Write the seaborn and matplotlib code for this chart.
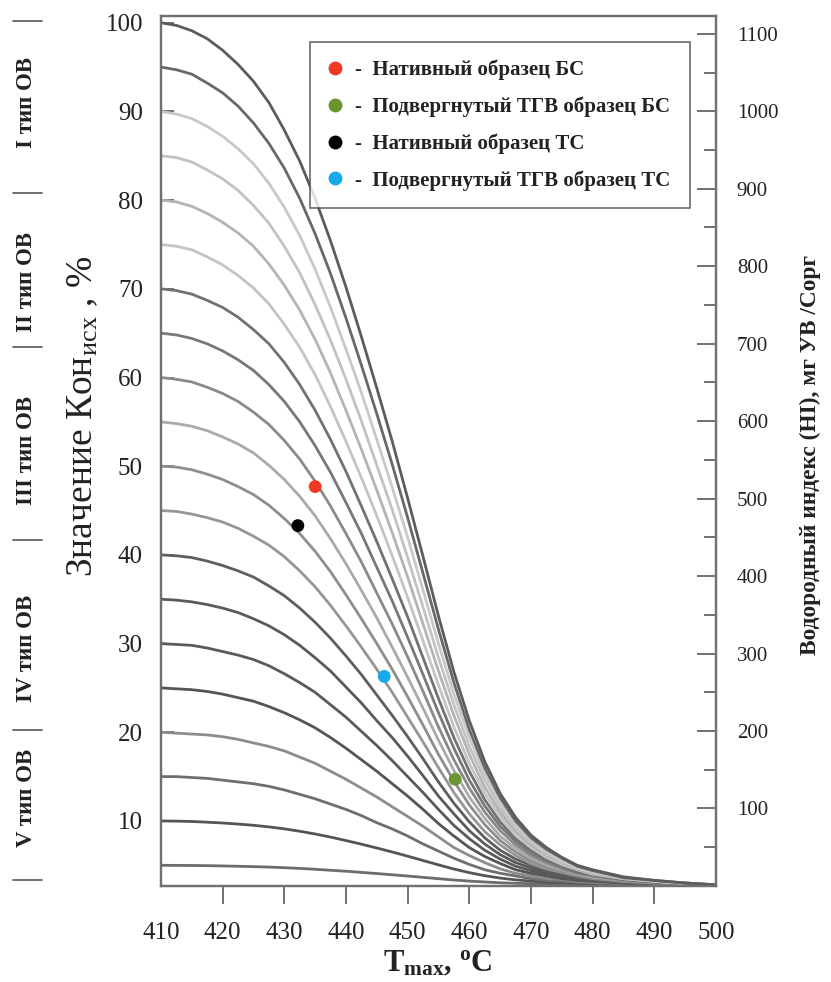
import matplotlib
matplotlib.use('Agg')
import matplotlib.pyplot as plt
from matplotlib.lines import Line2D
from matplotlib.ticker import MultipleLocator
import pandas as pd
import seaborn as sns

# Tmax grid (°C) and Kon values (one list per starting value)
tmax = [410, 412.5, 415, 417.5, 420, 422.5, 425, 427.5, 430, 432.5, 435, 437.5, 440, 442.5,
        445, 447.5, 450, 452.5, 455, 457.5, 460, 462.5, 465, 467.5, 470, 472.5, 475, 477.5,
        480, 485, 490, 495, 500]

kon_005 = [5.0, 4.99, 4.98, 4.96, 4.93, 4.89, 4.85, 4.80, 4.73, 4.65, 4.55, 4.44, 4.33, 4.20,
           4.07, 3.93, 3.79, 3.64, 3.49, 3.34, 3.22, 3.12, 3.03, 2.97, 2.93, 2.90, 2.87, 2.85,
           2.84, 2.82, 2.81, 2.80, 2.80]
kon_010 = [10.0, 9.98, 9.94, 9.86, 9.77, 9.65, 9.51, 9.33, 9.11, 8.84, 8.53, 8.18, 7.79, 7.38,
           6.95, 6.50, 6.03, 5.54, 5.05, 4.58, 4.17, 3.83, 3.56, 3.36, 3.22, 3.11, 3.03, 2.97,
           2.92, 2.87, 2.84, 2.81, 2.80]
kon_015 = [15.0, 15.0, 14.9, 14.8, 14.6, 14.4, 14.2, 13.9, 13.5, 13.0, 12.5, 11.9, 11.3, 10.6,
           9.8, 9.1, 8.3, 7.4, 6.6, 5.8, 5.1, 4.5, 4.1, 3.8, 3.5, 3.3, 3.2, 3.1,
           3.0, 2.9, 2.9, 2.8, 2.8]
kon_020 = [20.0, 19.9, 19.8, 19.7, 19.5, 19.2, 18.8, 18.4, 17.9, 17.2, 16.5, 15.6, 14.7, 13.7,
           12.7, 11.6, 10.5, 9.4, 8.2, 7.0, 6.1, 5.3, 4.6, 4.1, 3.8, 3.5, 3.4, 3.2,
           3.1, 3.0, 2.9, 2.8, 2.8]
kon_025 = [25.0, 24.9, 24.8, 24.6, 24.3, 23.9, 23.5, 22.9, 22.2, 21.4, 20.5, 19.4, 18.2, 16.9,
           15.6, 14.2, 12.8, 11.3, 9.7, 8.3, 7.0, 6.0, 5.2, 4.5, 4.1, 3.8, 3.5, 3.3,
           3.2, 3.0, 2.9, 2.8, 2.8]
kon_030 = [30.0, 29.9, 29.8, 29.5, 29.1, 28.7, 28.2, 27.5, 26.6, 25.6, 24.5, 23.1, 21.7, 20.1,
           18.5, 16.8, 15.0, 13.2, 11.3, 9.5, 8.0, 6.7, 5.7, 4.9, 4.4, 4.0, 3.7, 3.4,
           3.3, 3.0, 2.9, 2.9, 2.8]
kon_035 = [35.0, 34.9, 34.7, 34.4, 34.0, 33.5, 32.8, 32.0, 31.0, 29.8, 28.4, 26.9, 25.1, 23.3,
           21.3, 19.4, 17.3, 15.1, 12.8, 10.8, 8.9, 7.4, 6.2, 5.3, 4.7, 4.2, 3.8, 3.5,
           3.3, 3.1, 3.0, 2.9, 2.8]
kon_040 = [40.0, 39.9, 39.7, 39.3, 38.8, 38.2, 37.5, 36.5, 35.4, 34.0, 32.4, 30.6, 28.6, 26.5,
           24.2, 21.9, 19.5, 17.0, 14.4, 12.0, 9.9, 8.1, 6.7, 5.7, 5.0, 4.4, 4.0, 3.7,
           3.4, 3.1, 3.0, 2.9, 2.8]
kon_045 = [45.0, 44.9, 44.6, 44.2, 43.7, 43.0, 42.1, 41.1, 39.8, 38.2, 36.4, 34.3, 32.0, 29.6,
           27.1, 24.5, 21.7, 18.9, 16.0, 13.2, 10.8, 8.8, 7.3, 6.1, 5.2, 4.6, 4.2, 3.8,
           3.5, 3.2, 3.0, 2.9, 2.8]
kon_050 = [50.0, 49.9, 49.6, 49.1, 48.5, 47.7, 46.8, 45.6, 44.1, 42.4, 40.4, 38.1, 35.5, 32.8,
           30.0, 27.1, 24.0, 20.8, 17.5, 14.5, 11.8, 9.6, 7.8, 6.5, 5.5, 4.8, 4.3, 3.9,
           3.6, 3.2, 3.0, 2.9, 2.8]
kon_055 = [55.0, 54.8, 54.5, 54.0, 53.3, 52.5, 51.5, 50.1, 48.5, 46.6, 44.4, 41.8, 39.0, 36.0,
           32.9, 29.6, 26.2, 22.7, 19.1, 15.7, 12.7, 10.3, 8.3, 6.9, 5.8, 5.0, 4.5, 4.0,
           3.7, 3.3, 3.1, 2.9, 2.8]
kon_060 = [60.0, 59.8, 59.5, 58.9, 58.2, 57.3, 56.1, 54.7, 52.9, 50.8, 48.3, 45.5, 42.4, 39.2,
           35.7, 32.2, 28.5, 24.6, 20.6, 16.9, 13.7, 11.0, 8.9, 7.3, 6.1, 5.3, 4.6, 4.1,
           3.8, 3.3, 3.1, 2.9, 2.8]
kon_065 = [65.0, 64.8, 64.4, 63.8, 63.0, 62.0, 60.8, 59.2, 57.3, 55.0, 52.3, 49.3, 45.9, 42.4,
           38.6, 34.8, 30.7, 26.5, 22.2, 18.2, 14.6, 11.7, 9.4, 7.7, 6.4, 5.5, 4.8, 4.2,
           3.9, 3.4, 3.1, 2.9, 2.8]
kon_070 = [70.0, 69.8, 69.4, 68.7, 67.9, 66.8, 65.4, 63.8, 61.7, 59.2, 56.3, 53.0, 49.4, 45.5,
           41.5, 37.3, 33.0, 28.4, 23.8, 19.4, 15.6, 12.4, 9.9, 8.0, 6.7, 5.7, 5.0, 4.3,
           3.9, 3.4, 3.1, 2.9, 2.8]
kon_075 = [75.0, 74.8, 74.4, 73.6, 72.7, 71.5, 70.1, 68.3, 66.0, 63.4, 60.3, 56.7, 52.8, 48.7,
           44.4, 39.9, 35.2, 30.3, 25.3, 20.6, 16.5, 13.1, 10.5, 8.4, 7.0, 5.9, 5.1, 4.5,
           4.0, 3.5, 3.2, 2.9, 2.8]
kon_080 = [80.0, 79.8, 79.3, 78.5, 77.5, 76.3, 74.8, 72.8, 70.4, 67.6, 64.3, 60.5, 56.3, 51.9,
           47.3, 42.5, 37.5, 32.2, 26.9, 21.9, 17.5, 13.8, 11.0, 8.8, 7.3, 6.1, 5.3, 4.6,
           4.1, 3.5, 3.2, 3.0, 2.8]
kon_085 = [85.0, 84.8, 84.3, 83.4, 82.4, 81.1, 79.4, 77.4, 74.8, 71.8, 68.2, 64.2, 59.8, 55.1,
           50.1, 45.1, 39.7, 34.1, 28.4, 23.1, 18.4, 14.6, 11.5, 9.2, 7.6, 6.3, 5.4, 4.7,
           4.2, 3.5, 3.2, 3.0, 2.8]
kon_090 = [90.0, 89.7, 89.2, 88.3, 87.2, 85.8, 84.1, 81.9, 79.2, 76.0, 72.2, 67.9, 63.2, 58.3,
           53.0, 47.6, 42.0, 36.0, 30.0, 24.3, 19.4, 15.3, 12.0, 9.6, 7.9, 6.6, 5.6, 4.8,
           4.3, 3.6, 3.2, 3.0, 2.8]
kon_095 = [95.0, 94.7, 94.2, 93.2, 92.1, 90.6, 88.7, 86.4, 83.6, 80.2, 76.2, 71.7, 66.7, 61.4,
           55.9, 50.2, 44.2, 37.9, 31.6, 25.6, 20.3, 16.0, 12.6, 10.0, 8.1, 6.8, 5.8, 4.9,
           4.4, 3.6, 3.3, 3.0, 2.8]
kon_100 = [100.0, 99.7, 99.1, 98.2, 96.9, 95.3, 93.4, 91.0, 87.9, 84.4, 80.2, 75.4, 70.2, 64.6,
           58.8, 52.8, 46.4, 39.8, 33.1, 26.8, 21.3, 16.7, 13.1, 10.4, 8.4, 7.0, 5.9, 5.0,
           4.5, 3.7, 3.3, 3.0, 2.8]

curve_names = ['5', '10', '15', '20', '25', '30', '35', '40', '45', '50',
               '55', '60', '65', '70', '75', '80', '85', '90', '95', '100']
curve_values = [kon_005, kon_010, kon_015, kon_020, kon_025, kon_030, kon_035, kon_040, kon_045, kon_050,
                kon_055, kon_060, kon_065, kon_070, kon_075, kon_080, kon_085, kon_090, kon_095, kon_100]

# samples
sample_labels = ['Нативный образец БС', 'Подвергнутый ТГВ образец БС',
                 'Нативный образец ТС', 'Подвергнутый ТГВ образец ТС']
sample_tmax = [435.0, 457.7, 432.2, 446.2]
sample_kon = [47.7, 14.7, 43.3, 26.3]

type_labels = ['I тип ОВ', 'II тип ОВ', 'III тип ОВ', 'IV тип ОВ', 'V тип ОВ']
x_ticks = [410, 420, 430, 440, 450, 460, 470, 480, 490, 500]
kon_ticks = [10, 20, 30, 40, 50, 60, 70, 80, 90, 100]
hi_ticks = [100, 200, 300, 400, 500, 600, 700, 800, 900, 1000, 1100]

# styling
curve_colors = {'5': '#6c6c6c', '10': '#555555', '15': '#6e6e6e', '20': '#8c8c8c', '25': '#555555',
                '30': '#5a5a5a', '35': '#5a5a5a', '40': '#5e5e5e', '45': '#969696', '50': '#8e8e8e',
                '55': '#aaaaaa', '60': '#8a8a8a', '65': '#787878', '70': '#727272', '75': '#c4c4c4',
                '80': '#b4b4b4', '85': '#c2c2c2', '90': '#c8c8c8', '95': '#686868', '100': '#5c5c5c'}
sample_colors = {'Нативный образец БС': '#ee3a24', 'Подвергнутый ТГВ образец БС': '#6b9531',
                 'Нативный образец ТС': '#000000', 'Подвергнутый ТГВ образец ТС': '#14aaeb'}

sns.set_theme(style='white')
plt.rcParams['font.family'] = ['Liberation Serif', 'DejaVu Serif']
plt.rcParams['mathtext.fontset'] = 'custom'
plt.rcParams['mathtext.rm'] = 'Liberation Serif'
plt.rcParams['mathtext.it'] = 'Liberation Serif:italic'
plt.rcParams['mathtext.bf'] = 'Liberation Serif:bold'

df = pd.DataFrame({
    'tmax': tmax * len(curve_names),
    'kon': [v for vals in curve_values for v in vals],
    'curve': [n for n in curve_names for _ in tmax],
})
pts = pd.DataFrame({'tmax': sample_tmax, 'kon': sample_kon, 'sample': sample_labels})

fig = plt.figure(figsize=(8.31, 9.82), dpi=100)
ax = fig.add_axes([0.1937, 0.0978, 0.6679, 0.8859])

sns.lineplot(data=df, x='tmax', y='kon', hue='curve', hue_order=curve_names, palette=curve_colors,
             estimator=None, sort=False, legend=False, linewidth=2.0, ax=ax)
sns.scatterplot(data=pts, x='tmax', y='kon', hue='sample', palette=sample_colors, s=85,
                edgecolor='none', legend=False, ax=ax, zorder=5)

ax.set_xlim(410, 500)
ax.set_ylim(2.67, 100.76)
ax.set_xticks(x_ticks)
ax.set_yticks(kon_ticks)
ax.set_xlabel('')
ax.set_ylabel('')
ax.tick_params(axis='y', direction='in', length=9, width=1.3, color='#666666', pad=13,
               labelsize=18, labelcolor='#222222', left=True)
ax.tick_params(axis='x', direction='out', length=13, width=1.3, color='#666666', pad=13,
               labelsize=18, labelcolor='#222222', bottom=True)
for t in (ax.xaxis.get_major_ticks()[0], ax.xaxis.get_major_ticks()[-1]):
    t.tick1line.set_visible(False)

ax2 = ax.twinx()
ax2.set_ylim(0, 1123)
ax2.set_yticks(hi_ticks)
ax2.yaxis.set_minor_locator(MultipleLocator(50))
ax2.tick_params(axis='y', which='major', direction='in', length=14, width=1.3, color='#666666',
                pad=15, labelsize=15, labelcolor='#222222', right=True)
ax2.tick_params(axis='y', which='minor', direction='in', length=9, width=1.3, color='#666666', right=True)

for a in (ax, ax2):
    for sp in a.spines.values():
        sp.set_color('#707070')
        sp.set_linewidth(1.6)

# legend
handles = [Line2D([], [], marker='o', linestyle='none', markersize=10,
                  markerfacecolor=sample_colors[l], markeredgecolor='none') for l in sample_labels]
leg = ax.legend(handles, ['-  ' + l for l in sample_labels], loc='upper left',
                bbox_to_anchor=(0.268, 0.78, 0.685, 0.19), mode='expand', borderaxespad=0,
                frameon=True, fancybox=False, borderpad=0.85, labelspacing=0.78, handlelength=0.7,
                handletextpad=0.6, prop={'family': 'Liberation Serif', 'weight': 'bold', 'size': 15})
leg.get_frame().set_edgecolor('#444444')
leg.get_frame().set_linewidth(1.2)
for txt in leg.get_texts():
    txt.set_color('#222222')

# axis titles
fig.text(0.100, 0.576, 'Значение Кон$_{\\mathrm{исх}}$ , %', rotation=90, ha='center', va='center',
         fontsize=27, color='#222222')
fig.text(0.975, 0.537, 'Водородный индекс (HI), мг УВ /Сорг', rotation=90, ha='center', va='center',
         fontsize=16.8, fontweight='bold', color='#222222')
fig.text(0.527, 0.011, '$\\mathbf{T_{max}}$, $^{\\mathbf{o}}$C', ha='center', va='baseline',
         fontsize=22, fontweight='bold', color='#222222')

# kerogen type column on the left
type_y = [103, 282, 450, 648, 798]
for lbl, yp in zip(type_labels, type_y):
    fig.text(26 / 831, 1 - yp / 982, lbl, rotation=90, ha='center', va='center',
             fontsize=16.5, fontweight='bold', color='#222222')
for yp in [21, 193, 347, 540, 730, 880]:
    fig.add_artist(Line2D([13 / 831, 42 / 831], [1 - yp / 982, 1 - yp / 982],
                          transform=fig.transFigure, color='#555555', linewidth=1.2))

fig.savefig('out.png', dpi=100)
